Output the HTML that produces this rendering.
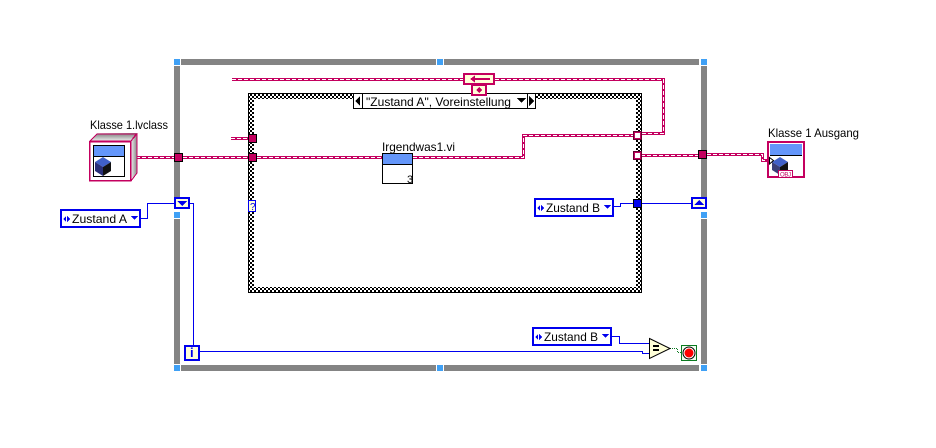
<!DOCTYPE html>
<html><head><meta charset="utf-8"><style>
html,body{margin:0;padding:0;background:#fff;width:936px;height:448px;overflow:hidden}
svg{display:block}
text{font-family:"Liberation Sans",sans-serif;font-size:12px;fill:#000}
</style></head><body>
<svg width="936" height="448" viewBox="0 0 936 448" xmlns="http://www.w3.org/2000/svg">
<defs>
<pattern id="chk" width="4" height="4" patternUnits="userSpaceOnUse"><rect width="4" height="4" fill="#fff"/><rect width="2" height="2" fill="#000"/><rect x="2" y="2" width="2" height="2" fill="#000"/></pattern>
<linearGradient id="topf" x1="0" y1="0" x2="0" y2="1"><stop offset="0" stop-color="#888"/><stop offset="1" stop-color="#eee"/></linearGradient>
<linearGradient id="sidef" x1="0" y1="0" x2="1" y2="0"><stop offset="0" stop-color="#eee"/><stop offset="1" stop-color="#888"/></linearGradient>
</defs>
<g shape-rendering="crispEdges">
<!-- loop frame -->
<g fill="#848484">
<rect x="181" y="59" width="255" height="6"/><rect x="444" y="59" width="255" height="6"/>
<rect x="181" y="365" width="255" height="6"/><rect x="444" y="365" width="255" height="6"/>
<rect x="174" y="66" width="6" height="131"/><rect x="174" y="219" width="6" height="145"/>
<rect x="701" y="66" width="6" height="131"/><rect x="701" y="219" width="6" height="145"/>
</g>
<g fill="#3fa0f5">
<rect x="174" y="59" width="6" height="6"/><rect x="437" y="59" width="6" height="6"/><rect x="701" y="59" width="6" height="6"/>
<rect x="174" y="212" width="6" height="6"/><rect x="701" y="212" width="6" height="6"/>
<rect x="174" y="365" width="6" height="6"/><rect x="437" y="365" width="6" height="6"/><rect x="701" y="365" width="6" height="6"/>
</g>
<!-- case structure -->
<path fill-rule="evenodd" fill="url(#chk)" d="M248 93H642V293H248ZM254 99V287H636V99Z"/>
<rect x="248.500" y="93.500" width="393" height="199" fill="none" stroke="#000"/>
<!-- selector -->
<rect x="353.500" y="93.500" width="182" height="15" fill="#fff" stroke="#000"/>
<path d="M362.500 94V108M527.500 94V108" stroke="#000"/>
<path d="M355 101L360 96V106Z M534 101L529 96V106Z M517 98H526L521.500 103Z" fill="#000"/>
<!-- class wires -->
<g fill="none">
<path stroke="#c4005f" stroke-width="3" d="M232 79.500H463M495 79.500H663.500V133.500H641M231 138.500H248M136 157.500H174M183 157.500H248M257 157.500H382M413 157.500H523.500V135.500H633M641 155.500H698M707 154.500H762.500V160.500H768"/>
<path stroke="#fff" stroke-width="1" stroke-dasharray="4 2" d="M232 79.500H463M495 79.500H663.500V133.500H641M231 138.500H248M136 157.500H174M183 157.500H248M257 157.500H382M413 157.500H523.500V135.500H633M641 155.500H698M707 154.500H762.500V160.500H768"/>
</g>
<!-- blue wires -->
<path fill="none" stroke="#0000ee" d="M141 218.500H147.500V203.500H174M190 203.500H193.500V345M200 351.500H642.500V353.500H649M612 336.500H619.500V343.500H649M614 206.500H620.500V203.500H633M641 203.500H691"/>
<!-- green wire -->
<path fill="none" stroke="#0a7a20" stroke-dasharray="1 1" d="M670 348.500H677.500V352.500H681"/>
<!-- terminals -->
<g fill="#c4005f" stroke="#000"><rect x="174.500" y="153.500" width="8" height="8"/><rect x="248.500" y="134.500" width="8" height="8"/><rect x="248.500" y="153.500" width="8" height="8"/><rect x="698.500" y="150.500" width="8" height="8"/></g>
<g fill="#fff" stroke="#c4005f" stroke-width="2"><rect x="634" y="132" width="7" height="7"/><rect x="634" y="152" width="7" height="7"/></g>
<path d="M633.500 131.500H641.500V139.500H633.500ZM633.500 151.500H641.500V159.500H633.500Z" fill="none" stroke="#000" stroke-opacity=".5"/>
<rect x="633.500" y="199.500" width="8" height="8" fill="#0000ee" stroke="#000"/>
<rect x="248.500" y="200.500" width="7" height="11" fill="#ffffd8" stroke="#0000ee"/>
<!-- shift registers -->
<rect x="175" y="198" width="14" height="10" fill="#ffffd8" stroke="#0000ee" stroke-width="2"/>
<path d="M177 201H187L182 206Z" fill="#0000ee"/>
<rect x="692" y="198" width="14" height="10" fill="#ffffd8" stroke="#0000ee" stroke-width="2"/>
<path d="M694 205H704L699 200Z" fill="#0000ee"/>
<!-- enums -->
<rect x="61" y="210" width="79" height="17" fill="#fff" stroke="#0000ee" stroke-width="2"/>
<rect x="535" y="199" width="78" height="17" fill="#fff" stroke="#0000ee" stroke-width="2"/>
<rect x="533" y="328" width="78" height="17" fill="#fff" stroke="#0000ee" stroke-width="2"/>
<g fill="#0000ee">
<path d="M63 219L66 216V222ZM70 219L67 216V222ZM131 216H138L134.500 220Z"/>
<path d="M537 208L540 205V211ZM544 208L541 205V211ZM604 205H611L607.500 209Z"/>
<path d="M535 337L538 334V340ZM542 337L539 334V340ZM602 334H609L605.500 338Z"/>
</g>
<!-- subVI -->
<rect x="382.500" y="153.500" width="30" height="30" fill="#fff" stroke="#000"/>
<rect x="383" y="154" width="29" height="10" fill="#6496fa"/>
<path d="M383 164.500H412" stroke="#000"/>
<!-- feedback -->
<rect x="464" y="74" width="30" height="10" fill="#ffffd8" stroke="#c4005f" stroke-width="2"/>
<path d="M470 79L475 75.500V78H490V80H475V82.500Z" fill="#c4005f"/>
<rect x="472" y="85" width="14" height="10" fill="#ffffd8" stroke="#c4005f" stroke-width="2"/>
<path d="M479 87L482 90L479 93L476 90Z" fill="#c4005f"/>
<!-- class constant -->
<path d="M89 141L97 133H137V173L131 181V141Z" fill="url(#sidef)"/>
<path d="M90 141L97 134H136L131 141Z" fill="url(#topf)" stroke="#c4005f"/>
<path d="M131 141L137 134V173L131 181" fill="url(#sidef)" stroke="#c4005f"/>
<rect x="89.500" y="141.500" width="41" height="39" fill="#fff" stroke="#c4005f" stroke-width="1.500"/>
<rect x="93.500" y="145.500" width="31" height="31" fill="#fff" stroke="#000"/>
<rect x="94" y="146" width="30" height="10" fill="#6496fa"/>
<path d="M94 156.500H124" stroke="#000"/>
</g>
<path d="M95 162L103 157L111 162L103 167Z" fill="#4060c8"/>
<path d="M95 162L103 167V176L95 171Z" fill="#2a2f78"/>
<path d="M103 167L111 162V171L103 176Z" fill="#111"/>
<g shape-rendering="crispEdges">
<!-- class indicator -->
<rect x="768" y="142" width="36" height="35" fill="#fff" stroke="#c4005f" stroke-width="2"/>
<rect x="770" y="144" width="32" height="11" fill="#6496fa"/>
<path d="M770 155.500H802" stroke="#000"/>
</g>
<path d="M772 162L780 157L788 162L780 167Z" fill="#4060c8"/>
<path d="M772 162L780 167V175L772 170Z" fill="#3a3f78"/>
<path d="M780 167L788 162V172L780 175Z" fill="#111"/>
<path d="M769.500 157.500L773.500 160.500L769.500 164Z" fill="#fff" stroke="#000"/>
<rect x="778.500" y="170.500" width="14" height="7" fill="#fff" stroke="#c4005f"/>
<!-- equal -->
<path d="M649.500 338.500L670 348.500L649.500 358.500Z" fill="#ffffd8" stroke="#000"/>
<path d="M653 346H659M653 350H659" stroke="#000" stroke-width="2" shape-rendering="crispEdges"/>
<!-- stop -->
<rect x="681.500" y="345.500" width="15" height="15" fill="#f0fff0" stroke="#0a7a20"/>
<circle cx="689" cy="353" r="6" fill="#fff" stroke="#000"/>
<circle cx="689" cy="353" r="4.500" fill="#f00"/>
<!-- i -->
<rect x="185" y="346" width="14" height="14" fill="#ffffd8" stroke="#0000ee" stroke-width="2" shape-rendering="crispEdges"/>
<!-- texts -->
<text x="90" y="129" textLength="78" lengthAdjust="spacingAndGlyphs">Klasse 1.lvclass</text>
<text x="768" y="137" textLength="91" lengthAdjust="spacingAndGlyphs">Klasse 1 Ausgang</text>
<text x="382" y="151" textLength="73" lengthAdjust="spacingAndGlyphs">Irgendwas1.vi</text>
<text x="366" y="106" textLength="145" lengthAdjust="spacingAndGlyphs">"Zustand A", Voreinstellung</text>
<text x="72" y="223" textLength="55" lengthAdjust="spacingAndGlyphs">Zustand A</text>
<text x="546" y="212" textLength="54" lengthAdjust="spacingAndGlyphs">Zustand B</text>
<text x="544" y="341" textLength="54" lengthAdjust="spacingAndGlyphs">Zustand B</text>
<text x="407" y="183" style="font-size:11px">3</text>
<text x="250" y="210" style="font-size:10px;fill:#0000ee">?</text>
<text x="190" y="357" style="font-size:13px;font-weight:bold;fill:#0000ee">i</text>
<text x="780" y="176.500" style="font-size:6px;fill:#c4005f" textLength="11">OBJ</text>
</svg>
</body></html>
